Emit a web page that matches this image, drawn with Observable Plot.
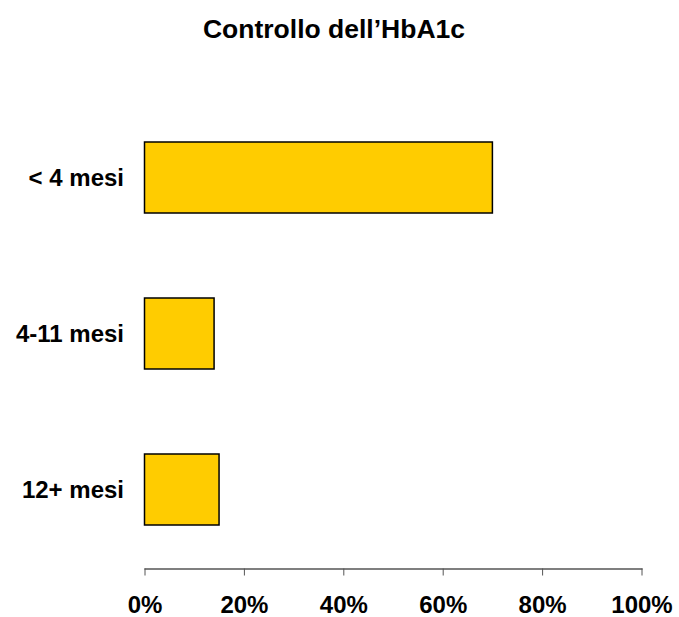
<!DOCTYPE html>
<html>
<head>
<meta charset="utf-8">
<script src="https://cdn.jsdelivr.net/npm/d3@7"></script>
<script src="https://cdn.jsdelivr.net/npm/@observablehq/plot@0.6"></script>
<style>
  html, body { margin: 0; padding: 0; background: #fff; overflow: hidden; }
  #wrap { position: relative; width: 679px; height: 617px; }
  #title {
    position: absolute; left: 0; top: 16px; width: 668px; text-align: center;
    font-family: "Liberation Sans", Arial, sans-serif; font-weight: bold;
    font-size: 26.5px; line-height: 27px; color: #000; white-space: nowrap;
  }
  #chart svg { display: block; }
  #chart svg text { font-family: "Liberation Sans", Arial, sans-serif; font-weight: bold; }
</style>
</head>
<body>
<div id="wrap">
  <div id="title">Controllo dell’HbA1c</div>
  <div id="chart"></div>
</div>
<script>
const categories = ["< 4 mesi", "4-11 mesi", "12+ mesi"];
const values = [70, 14, 15];
const xTicks = [0, 20, 40, 60, 80, 100];

const data = categories.map((c, i) => ({category: c, value: values[i]}));

const chart = Plot.plot({
  width: 679,
  height: 617,
  marginLeft: 144.5,
  marginRight: 37.5,
  marginTop: 98.5,
  marginBottom: 48.5,
  style: {fontFamily: "Liberation Sans, Arial, sans-serif", background: "#fff", color: "#000", overflow: "visible"},
  x: {domain: [0, 100], ticks: xTicks, tickFormat: d => d + "%"},
  y: {domain: categories, paddingInner: 0.548, paddingOuter: 0.271},
  marks: [
    Plot.barX(data, {x: "value", y: "category", fill: "#FFCC00", stroke: "#000", strokeWidth: 1.5}),
    Plot.frame({anchor: "bottom", stroke: "#000", strokeWidth: 1.2}),
    Plot.axisX({ticks: xTicks, tickFormat: d => d + "%", tickSize: 7, tickPadding: 19.5, stroke: "#555", fontSize: 24, label: null, fill: "#000"}),
    Plot.axisY({tickSize: 0, tickPadding: 21, fontSize: 24, label: null, fill: "#000"})
  ]
});
document.getElementById("chart").appendChild(chart);
</script>
</body>
</html>
